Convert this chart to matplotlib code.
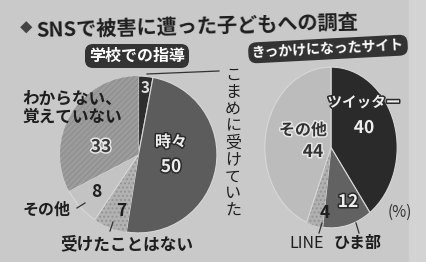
import matplotlib
matplotlib.use("Agg")
import matplotlib.pyplot as plt
import matplotlib.patheffects as pe
from matplotlib.patches import Rectangle

plt.rcParams['font.family'] = ['Noto Sans CJK JP', 'DejaVu Sans']
plt.rcParams['hatch.linewidth'] = 0.9

# data
title = "SNSで被害に遭った子どもへの調査"
school_title = "学校での指導"
school_labels = ["こまめに受けていた", "時々", "受けたことはない", "その他", "わからない、\n覚えていない"]
school_values = [3, 50, 7, 8, 33]
site_title = "きっかけになったサイト"
site_labels = ["ツイッター", "ひま部", "LINE", "その他"]
site_values = [40, 12, 4, 44]

W, H = 427, 262
BG = '#c9c9c9'
fig = plt.figure(figsize=(W / 100, H / 100), dpi=100, facecolor=BG)


def px_axes(cx, cy, rx, ry):
    return fig.add_axes([(cx - rx) / W, (H - cy - ry) / H, 2 * rx / W, 2 * ry / H])


# background strip of the next column
bg = fig.add_axes([0, 0, 1, 1])
bg.set_xlim(0, W)
bg.set_ylim(H, 0)
bg.axis('off')
bg.add_patch(Rectangle((409, 0), 18, H, color='#d3d3d3', lw=0))


def draw_pie(ax, values, colors, hatches, hatch_cols):
    wedges, _ = ax.pie(values, colors=colors, startangle=90, counterclock=False,
                       radius=1, wedgeprops=dict(edgecolor='#d8d8d8', linewidth=0.8))
    for w, h, hc in zip(wedges, hatches, hatch_cols):
        if h:
            w.set_hatch(h)
            w.set_edgecolor(hc)
            w.set_linewidth(0)
    ax.set_xlim(-1.02, 1.02)
    ax.set_ylim(-1.02, 1.02)
    ax.set_aspect('auto')
    ax.axis('off')


ax1 = px_axes(138.5, 154.5, 80, 80)
draw_pie(ax1, school_values,
         ['#2e2e2e', '#5c5c5c', '#b2b2b2', '#c3c3c3', '#9c9c9c'],
         [None, None, '....', None, '//////'],
         [None, None, '#939393', None, '#8f8f8f'])

ax2 = px_axes(331, 147.5, 67.5, 82)
draw_pie(ax2, site_values,
         ['#2a2a2a', '#626262', '#b0b0b0', '#bcbcbc'],
         [None, None, '....', None],
         [None, None, '#939393', None])

# text overlay
ov = fig.add_axes([0, 0, 1, 1])
ov.set_xlim(0, W)
ov.set_ylim(H, 0)
ov.axis('off')
ov.patch.set_alpha(0)

dark = '#1e1e1e'
white_on_dark = [pe.withStroke(linewidth=2.2, foreground='#2a2a2a')]
dark_on_light = [pe.withStroke(linewidth=2.2, foreground='#e6e6e6')]

ov.text(26, 29, "◆", fontsize=9, color='#444444', ha='center', va='center')
ov.text(36, 26, title, fontsize=14.5, fontweight='bold', color=dark,
        ha='left', va='center', rotation=1.5)

ov.text(137, 56, school_title, fontsize=11.5, fontweight='bold', color='white',
        ha='center', va='center',
        bbox=dict(boxstyle='round,pad=0.25,rounding_size=0.5', fc='#333333', ec='none'))
ov.text(328, 49, site_title, fontsize=10, fontweight='bold', color='white',
        ha='center', va='center', rotation=3,
        bbox=dict(boxstyle='round,pad=0.25,rounding_size=0.6', fc='#333333', ec='none'))

# left pie labels
ov.plot([147, 219], [74, 71], color='#333333', lw=0.9)
for i, ch in enumerate(school_labels[0]):
    ov.text(233, 75 + i * 17, ch, fontsize=11.5, color=dark, ha='center', va='center')
ov.text(145, 88, str(school_values[0]), fontsize=11, fontweight='bold', color='#dddddd',
        ha='center', va='center')
ov.text(171, 142, school_labels[1], fontsize=11.5, fontweight='bold', color='#eeeeee',
        ha='center', va='center', path_effects=white_on_dark)
ov.text(171, 167, str(school_values[1]), fontsize=12.5, fontweight='bold', color='#eeeeee',
        ha='center', va='center', path_effects=white_on_dark)
ov.text(22, 108, school_labels[4], fontsize=12, fontweight='bold', color=dark,
        ha='left', va='center', linespacing=1.0)
ov.text(101, 147, str(school_values[4]), fontsize=12.5, fontweight='bold', color='#3a3a3a',
        ha='center', va='center', path_effects=dark_on_light)
ov.text(96, 192, str(school_values[3]), fontsize=12.5, fontweight='bold', color=dark,
        ha='center', va='center')
ov.text(47, 210, school_labels[3], fontsize=11.5, fontweight='bold', color=dark,
        ha='center', va='center')
ov.plot([77, 85], [208, 203], color='#333333', lw=0.9)
ov.text(121, 211, str(school_values[2]), fontsize=12.5, fontweight='bold', color=dark,
        ha='center', va='center')
ov.text(127, 244, school_labels[2], fontsize=12, fontweight='bold', color=dark,
        ha='center', va='center')
ov.plot([110, 113], [231, 222], color='#333333', lw=0.9)

# right pie labels
ov.text(364, 102, site_labels[0], fontsize=10.5, fontweight='bold', color='#eeeeee',
        ha='center', va='center', path_effects=white_on_dark)
ov.text(364, 128, str(site_values[0]), fontsize=12.5, fontweight='bold', color='#eeeeee',
        ha='center', va='center', path_effects=white_on_dark)
ov.text(303, 130, site_labels[3], fontsize=11.5, fontweight='bold', color='#333333',
        ha='center', va='center', path_effects=dark_on_light)
ov.text(313, 152, str(site_values[3]), fontsize=12.5, fontweight='bold', color='#333333',
        ha='center', va='center', path_effects=dark_on_light)
ov.text(348, 202, str(site_values[1]), fontsize=12.5, fontweight='bold', color='#eeeeee',
        ha='center', va='center', path_effects=white_on_dark)
ov.text(325, 213, str(site_values[2]), fontsize=12.5, fontweight='bold', color=dark,
        ha='center', va='center')
ov.text(307, 243, site_labels[2], fontsize=11.5, color=dark, ha='center', va='center')
ov.text(358, 243, site_labels[1], fontsize=11.5, fontweight='bold', color=dark,
        ha='center', va='center')
ov.plot([322, 319], [223, 233], color='#333333', lw=0.9)
ov.plot([356, 359], [223, 233], color='#333333', lw=0.9)
ov.text(400, 212, "(%)", fontsize=11, color='#333333', ha='center', va='center')

fig.savefig('out.png', dpi=100, facecolor=BG)
